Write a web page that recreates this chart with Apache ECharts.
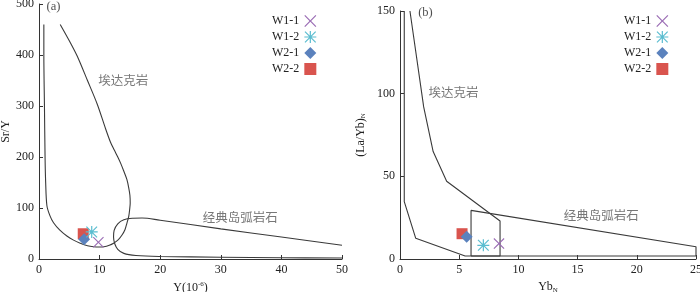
<!DOCTYPE html>
<html><head><meta charset="utf-8">
<script src="https://cdn.jsdelivr.net/npm/echarts@6/dist/echarts.min.js"></script>
<style>html,body{margin:0;padding:0;background:#fff}#c{width:700px;height:292px}</style>
</head><body><div id="c"></div>
<script>
// ---- panel (a): Sr/Y vs Y ----
const aAdakite = [[0.8,460],[0.8,400],[0.9,300],[1.0,200],[1.1,150],[1.3,105],[1.8,85],[2.4,71],[3.4,57],[4.6,45],[5.7,37],[6.8,31],[8,26],[9,24],[10,23.5],[10.7,24],[11.6,27],[12.3,31],[13.1,38],[13.7,47],[14.2,58],[14.5,70],[14.8,83],[14.95,96],[15.05,110],[15,125],[14.8,140],[14.5,156],[14,172],[13.5,187],[13,200],[12.4,214],[11.8,229],[11,255],[9.6,304],[8,350],[6.3,398],[5,428],[3.5,460]];
const aArc = [[50,27],[40,43],[30,59],[20,76],[17,80.5],[15.5,80],[14,77],[13,69],[12.4,56],[12.3,43],[12.5,30],[13,19],[14,11],[16,7],[20,5],[30,3.5],[40,2.5],[50,2]];
const aXTicks = [0,10,20,30,40,50];
const aYTicks = [0,100,200,300,400,500];
const aW11 = [[9.8,33]];
const aW12 = [[8.7,53]];
const aW21 = [[7.45,38.7]];
const aW22 = [[7.3,49.5]];
// ---- panel (b): (La/Yb)N vs YbN ----
const bAdakite = [[0.36,150],[0.36,34.7],[1.33,12.5],[5.5,1.8],[8.45,1.8],[8.45,23],[3.94,47],[2.8,65],[2.0,92],[0.84,150]];
const bArc = [[6,1.8],[6,29.4],[25,7.4],[25,1.8],[6,1.8]];
const bXTicks = [0,5,10,15,20,25];
const bYTicks = [0,50,100,150];
const bW11 = [[8.36,9.3]];
const bW12 = [[7.04,8.3]];
const bW21 = [[5.63,13.5]];
const bW22 = [[5.24,15.3]];
const names = ['W1-1','W1-2','W2-1','W2-2'];
const textA = [{v:[13.9,351], t:'埃达克岩'},{v:[33.2,82.6], t:'经典岛弧岩石'}];
const textB = [{v:[4.52,100.6], t:'埃达克岩'},{v:[17.0,26.6], t:'经典岛弧岩石'}];

const serif = '"Liberation Serif","DejaVu Serif",serif';
const cjk = '"Noto Sans CJK SC",sans-serif';
const xPath = 'path://M0,0.7L0.7,0L5,4.3L9.3,0L10,0.7L5.7,5L10,9.3L9.3,10L5,5.7L0.7,10L0,9.3L4.3,5Z';
const starPath = 'path://M4.5,0H5.5V10H4.5Z M0,4.5H10V5.5H0Z M0.2,0.9L0.9,0.2L9.8,9.1L9.1,9.8Z M9.1,0.2L9.8,0.9L0.9,9.8L0.2,9.1Z';
const colors = {'W1-1':'#9a6cb4','W1-2':'#5bbdd0','W2-1':'#5b82bd','W2-2':'#d9544e'};
const symbols = {'W1-1':[xPath,11],'W1-2':[starPath,12],'W2-1':['diamond',12],'W2-2':['rect',11]};
const zs = {'W1-1':6,'W1-2':5,'W2-1':4,'W2-2':3};

const axisCommon = {
  axisLine:{show:true,lineStyle:{color:'#333',width:1}},
  axisTick:{show:true,inside:true,length:4,lineStyle:{color:'#333'}},
  splitLine:{show:false},
  axisLabel:{color:'#222',fontFamily:serif,fontSize:12,margin:5,showMaxLabel:true,showMinLabel:true,hideOverlap:false},
  nameLocation:'middle',
  nameTextStyle:{color:'#222',fontFamily:serif,fontSize:12}
};
function ax(extra){return Object.assign({}, JSON.parse(JSON.stringify(axisCommon)), extra);}

function scatter(name, data, idx){
  return {type:'scatter', name:name, xAxisIndex:idx, yAxisIndex:idx, data:data,
    symbol:symbols[name][0], symbolSize:symbols[name][1], z:zs[name],
    itemStyle:{color:colors[name], opacity:1}};
}
function field(data, idx, smooth){
  return {type:'line', xAxisIndex:idx, yAxisIndex:idx, data:data, showSymbol:false, symbol:'none',
    smooth:smooth, lineStyle:{color:'#3a3a3a',width:1.1}, z:2, silent:true};
}
function labels(arr, idx){
  return {type:'scatter', xAxisIndex:idx, yAxisIndex:idx, symbolSize:0, silent:true, z:1,
    data:arr.map(o=>({value:o.v, label:{show:true, position:'inside', formatter:o.t,
      fontFamily:cjk, fontSize:12.5, color:'#555'}}))};
}
const sub = {n:{fontFamily:serif,fontSize:12,color:'#222'},s:{fontFamily:serif,fontSize:7,color:'#222',padding:[6,0,0,0]}};

const chart = echarts.init(document.getElementById('c'));
const yA = ax({gridIndex:0,type:'value',min:0,max:aYTicks[aYTicks.length-1]+0.01,interval:100,name:'Sr/Y',nameGap:21});
yA.axisLabel.formatter = v => String(Math.round(v));
chart.setOption({
  animation:false,
  grid:[{left:39,right:358,top:4,bottom:33,outerBoundsMode:'none'},{left:400,right:4,top:11,bottom:33,outerBoundsMode:'none'}],
  xAxis:[
    ax({gridIndex:0,type:'value',min:0,max:50,interval:10,name:'{n|Y(10}{s|-6}{n|)}',nameGap:18,
      nameTextStyle:{color:'#222',fontFamily:serif,fontSize:12,rich:{n:{fontFamily:serif,fontSize:12,color:'#222'},s:{fontFamily:serif,fontSize:7,color:'#222',verticalAlign:'top',padding:[0,0,6,0]}}}}),
    ax({gridIndex:1,type:'value',min:0,max:25,interval:5,name:'{n|Yb}{s|N}',nameGap:18,
      nameTextStyle:{color:'#222',fontFamily:serif,fontSize:12,rich:sub}})
  ],
  yAxis:[
    yA,
    ax({gridIndex:1,type:'value',min:0,max:150,interval:50,name:'{n|(La/Yb)}{s|N}',nameGap:33,
      nameTextStyle:{color:'#222',fontFamily:serif,fontSize:12,rich:sub}})
  ],
  legend:[
    {data:names,left:272,top:15,padding:0,orient:'vertical',align:'right',itemWidth:12,itemHeight:12,itemGap:4,
      textStyle:{fontFamily:serif,fontSize:12,color:'#222'},selectedMode:false},
    {data:names,left:624,top:15,padding:0,orient:'vertical',align:'right',itemWidth:12,itemHeight:12,itemGap:4,
      textStyle:{fontFamily:serif,fontSize:12,color:'#222'},selectedMode:false}
  ],
  series:[
    field(aAdakite,0,0.3), field(aArc,0,0.35),
    field(bAdakite,1,false), field(bArc,1,false),
    labels(textA,0), labels(textB,1),
    {type:'scatter',xAxisIndex:0,yAxisIndex:0,symbolSize:0,silent:true,data:[{value:[2.4,494],label:{show:true,position:'inside',formatter:'(a)',fontFamily:serif,fontSize:12.5,color:'#222'}}]},
    {type:'scatter',xAxisIndex:1,yAxisIndex:1,symbolSize:0,silent:true,data:[{value:[2.15,149],label:{show:true,position:'inside',formatter:'(b)',fontFamily:serif,fontSize:12.5,color:'#222'}}]},
    scatter('W1-1',aW11,0), scatter('W1-2',aW12,0), scatter('W2-1',aW21,0), scatter('W2-2',aW22,0),
    scatter('W1-1',bW11,1), scatter('W1-2',bW12,1), scatter('W2-1',bW21,1), scatter('W2-2',bW22,1)
  ]
});
</script></body></html>
